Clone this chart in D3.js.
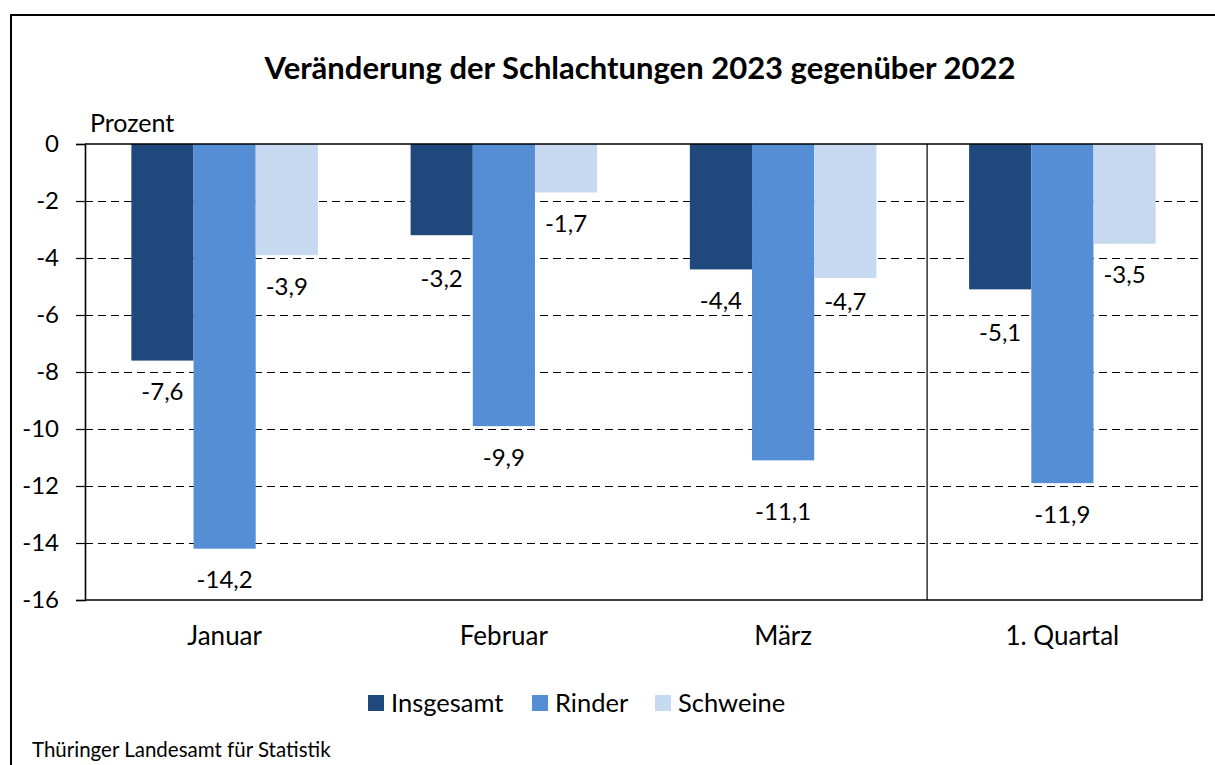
<!DOCTYPE html>
<html>
<head>
<meta charset="utf-8">
<script src="https://cdn.jsdelivr.net/npm/d3@7"></script>
<style>
  html, body { margin: 0; padding: 0; background: #fff; }
  svg { display: block; font-family: Lato, "Noto Sans", sans-serif; }
</style>
</head>
<body>
<svg id="chart" width="1215" height="765"></svg>
<script>
// ---- data ----
const categories = ["Januar", "Februar", "März", "1. Quartal"];
const seriesNames = ["Insgesamt", "Rinder", "Schweine"];
const insgesamt = [-7.6, -3.2, -4.4, -5.1];
const rinder = [-14.2, -9.9, -11.1, -11.9];
const schweine = [-3.9, -1.7, -4.7, -3.5];
const yTicks = [0, -2, -4, -6, -8, -10, -12, -14, -16];
const titleText = "Veränderung der Schlachtungen 2023 gegenüber 2022";
const unitText = "Prozent";
const sourceText = "Thüringer Landesamt für Statistik";

// ---- styling / layout ----
const colors = ["#1f497d", "#558ed5", "#c6d9f1"];
// extra vertical shift (px) of individual value labels as placed in the original
const labelShift = [[0, 0, 0], [12, 0, 0], [0, 20, -7], [12, 0, 0]];

const seriesValues = [insgesamt, rinder, schweine];
const rows = categories.map((c, i) => ({
  cat: c, ci: i,
  vals: seriesNames.map((s, k) => ({ s, k, v: seriesValues[k][i] }))
}));

const svg = d3.select("#chart");
const pL = 85, pR = 1202, pT = 144, pB = 600;

const x = d3.scaleBand().domain(categories).range([pL, pR])
  .paddingInner(0.332).paddingOuter(0.166);
const xs = d3.scaleBand().domain(seriesNames).range([0, x.bandwidth()]);
const y = d3.scaleLinear().domain([-16, 0]).range([pB, pT]);

// outer frame
svg.append("path")
  .attr("d", `M11,765 V15 H1215`)
  .attr("fill", "none").attr("stroke", "#000").attr("stroke-width", 2);

// title
svg.append("text").attr("x", 640).attr("y", 79)
  .attr("text-anchor", "middle").attr("font-weight", "bold")
  .attr("font-size", 31).attr("fill", "#000").text(titleText);

// unit label
svg.append("text").attr("x", 90).attr("y", 132)
  .attr("font-size", 25).attr("fill", "#000").text(unitText);

// gridlines
svg.append("g").selectAll("line")
  .data(yTicks.filter(d => d !== 0 && d !== -16))
  .join("line")
  .attr("x1", pL).attr("x2", pR)
  .attr("y1", d => y(d) + 0.5).attr("y2", d => y(d) + 0.5)
  .attr("stroke", "#000").attr("stroke-width", 1)
  .attr("stroke-dasharray", "8,5");

// bars
const groups = svg.append("g").selectAll("g")
  .data(rows).join("g")
  .attr("transform", d => `translate(${x(d.cat)},0)`);

groups.selectAll("rect").data(d => d.vals).join("rect")
  .attr("x", d => xs(d.s))
  .attr("width", xs.bandwidth())
  .attr("y", y(0))
  .attr("height", d => y(d.v) - y(0))
  .attr("fill", d => colors[d.k]);

// value labels
const fmt = v => d3.format(".1f")(v).replace("−", "-").replace(".", ",");
groups.selectAll("text.val").data(d => d.vals.map(v => ({ ...v, ci: d.ci }))).join("text")
  .attr("class", "val")
  .attr("x", d => xs(d.s) + xs.bandwidth() / 2)
  .attr("y", d => y(d.v) + 31 + labelShift[d.ci][d.k])
  .attr("dy", "0.35em")
  .attr("text-anchor", "middle")
  .attr("font-size", 24).attr("fill", "#000")
  .text(d => fmt(d.v));

// separator before quarterly value
const sepX = x("1. Quartal") - 42;
svg.append("line").attr("x1", sepX).attr("x2", sepX)
  .attr("y1", pT).attr("y2", pB).attr("stroke", "#000").attr("stroke-width", 1.2);

// plot frame: top (0-line), right, bottom
svg.append("path")
  .attr("d", `M${pL},${pT} H${pR} V${pB} H${pL}`)
  .attr("fill", "none").attr("stroke", "#000").attr("stroke-width", 1.6);

// y axis
const yAxis = d3.axisLeft(y).tickValues(yTicks).tickSize(9).tickPadding(17)
  .tickFormat(d => String(d).replace("−", "-"));
const ga = svg.append("g").attr("transform", `translate(${pL},0)`).call(yAxis);
ga.select(".domain").attr("stroke", "#000").attr("stroke-width", 1.6);
ga.selectAll(".tick line").attr("stroke", "#000").attr("stroke-width", 1.2);
ga.selectAll(".tick text").attr("font-size", 24).attr("fill", "#000")
  .attr("font-family", "Lato, sans-serif");

// x category labels
svg.append("g").selectAll("text").data(categories).join("text")
  .attr("x", d => x(d) + x.bandwidth() / 2)
  .attr("y", 645)
  .attr("text-anchor", "middle")
  .attr("font-size", 26).attr("fill", "#000")
  .text(d => d);

// legend
const legendX = [368, 532, 655];
const lg = svg.append("g").selectAll("g").data(seriesNames).join("g")
  .attr("transform", (d, i) => `translate(${legendX[i]},695)`);
lg.append("rect").attr("width", 16).attr("height", 16)
  .attr("fill", (d, i) => colors[i]);
lg.append("text").attr("x", 23).attr("y", 17)
  .attr("font-size", 25.5).attr("fill", "#000").text(d => d);

// source
svg.append("text").attr("x", 32).attr("y", 757)
  .attr("font-size", 20.5).attr("fill", "#000").text(sourceText);
</script>
</body>
</html>
